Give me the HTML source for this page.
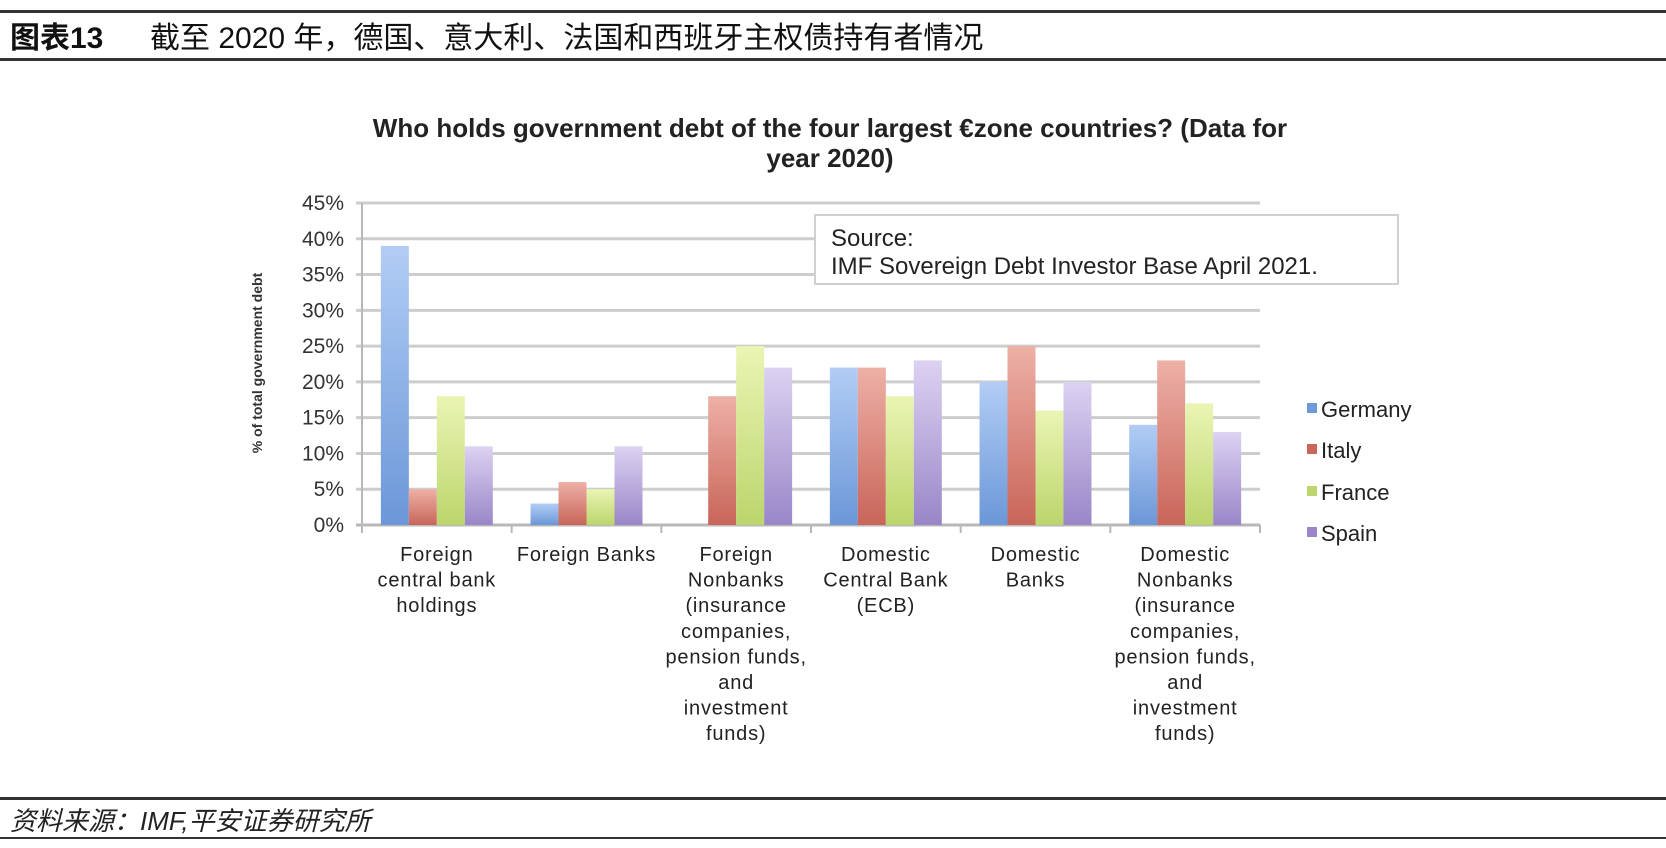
<!DOCTYPE html>
<html><head><meta charset="utf-8"><style>
body{margin:0;background:#fff;width:1666px;height:848px;overflow:hidden}
svg{display:block}
</style></head><body>
<svg id="chart" width="1666" height="848" xmlns="http://www.w3.org/2000/svg">
<defs>
<linearGradient id="gG" x1="0" y1="0" x2="0" y2="1"><stop offset="0" stop-color="#b2cdf5"/><stop offset="1" stop-color="#6b97d8"/></linearGradient>
<linearGradient id="gI" x1="0" y1="0" x2="0" y2="1"><stop offset="0" stop-color="#eeb0a6"/><stop offset="1" stop-color="#c9655a"/></linearGradient>
<linearGradient id="gF" x1="0" y1="0" x2="0" y2="1"><stop offset="0" stop-color="#eaf5b4"/><stop offset="1" stop-color="#bcd56c"/></linearGradient>
<linearGradient id="gS" x1="0" y1="0" x2="0" y2="1"><stop offset="0" stop-color="#dcd2f2"/><stop offset="1" stop-color="#9a86c8"/></linearGradient>
</defs>
<rect x="0" y="10" width="1666" height="3" fill="#333"/>
<text x="10" y="48" font-family="Liberation Sans, 'Noto Sans CJK SC', sans-serif" font-size="30" font-weight="bold" fill="#111">图表13</text>
<text x="150" y="48" font-family="Liberation Sans, 'Noto Sans CJK SC', sans-serif" font-size="30" fill="#111">截至 2020 年，德国、意大利、法国和西班牙主权债持有者情况</text>
<rect x="0" y="58" width="1666" height="3" fill="#333"/>
<text x="830" y="137" text-anchor="middle" font-family="Liberation Sans, sans-serif" font-size="26" font-weight="bold" fill="#222">Who holds government debt of the four largest €zone countries? (Data for</text>
<text x="830" y="167" text-anchor="middle" font-family="Liberation Sans, sans-serif" font-size="26" font-weight="bold" fill="#222">year 2020)</text>
<g id="grid"></g>
<g id="bars"></g>
<g id="labels"></g>
<text transform="translate(262,363) rotate(-90)" text-anchor="middle" font-family="Liberation Sans, sans-serif" font-size="14" font-weight="bold" fill="#333">% of total government debt</text>
<rect x="815" y="215" width="583" height="69" fill="#fff" stroke="#d0d0d0" stroke-width="2"/>
<text x="831" y="246" font-family="Liberation Sans, sans-serif" font-size="24" fill="#222">Source:</text>
<text x="831" y="274" font-family="Liberation Sans, sans-serif" font-size="24" fill="#222">IMF Sovereign Debt Investor Base April 2021.</text>
<g id="legend"></g>
<rect x="0" y="797" width="1666" height="3" fill="#333"/>
<text x="10" y="830" font-family="Liberation Sans, 'Noto Sans CJK SC', sans-serif" font-size="26" font-style="italic" fill="#222">资料来源：IMF,平安证券研究所</text>
<rect x="0" y="837" width="1666" height="2" fill="#333"/>
</svg>
<script>
const categories = [["Foreign","central bank","holdings"],["Foreign Banks"],["Foreign","Nonbanks","(insurance","companies,","pension funds,","and","investment","funds)"],["Domestic","Central Bank","(ECB)"],["Domestic","Banks"],["Domestic","Nonbanks","(insurance","companies,","pension funds,","and","investment","funds)"]];
const seriesNames = ["Germany","Italy","France","Spain"];
const germany = [39,3,0,22,20,14];
const italy = [5,6,18,22,25,23];
const france = [18,5,25,18,16,17];
const spain = [11,11,22,23,20,13];
const yTicks = [0,5,10,15,20,25,30,35,40,45];
const tickLabels = ["0%","5%","10%","15%","20%","25%","30%","35%","40%","45%"];

const NS="http://www.w3.org/2000/svg";
const X0=362,X1=1260,Y0=525,Y1=203,YMAX=45;
const gw=(X1-X0)/categories.length;
function yScale(v){return Y0-(v/YMAX)*(Y0-Y1);}
function xGroup(i){return X0+i*gw;}
function mk(tag,attrs,parent){const e=document.createElementNS(NS,tag);for(const k in attrs)e.setAttribute(k,attrs[k]);parent.appendChild(e);return e;}
const grid=document.getElementById('grid'),bars=document.getElementById('bars'),labels=document.getElementById('labels'),legend=document.getElementById('legend');
yTicks.forEach((t,i)=>{
  const y=yScale(t);
  const l=mk('line',{x1:X0-6,x2:X1,y1:y,y2:y,stroke:i===0?'#b8b8b8':'#cdcdcd','stroke-width':3},grid);
  
  
  const tx=mk('text',{x:344,y:y+7,'text-anchor':'end','font-family':'Liberation Sans, sans-serif','font-size':21,fill:'#333'},labels);
  tx.textContent=tickLabels[i];
  
  
});
const ax=mk('line',{x1:X0,x2:X0,y1:Y1,y2:Y0+6,stroke:'#b8b8b8','stroke-width':2},grid);


for(let i=0;i<=categories.length;i++){
  const tk=mk('line',{x1:xGroup(i),x2:xGroup(i),y1:Y0,y2:Y0+8,stroke:'#b8b8b8','stroke-width':2},grid);
  
  
}
const series=[germany,italy,france,spain],fills=['url(#gG)','url(#gI)','url(#gF)','url(#gS)'];
const bw=gw*0.187,pad=(gw-4*bw)/2;
series.forEach((s,si)=>{
  s.forEach((v,ci)=>{
    if(v<=0)return;
    const x=xGroup(ci)+pad+si*bw,y=yScale(v);
    const r=mk('rect',{x:x,y:y,width:bw,height:Y0-y,fill:fills[si]},bars);
    
    
  });
});
categories.forEach((lines,ci)=>{
  const cx=xGroup(ci)+gw/2;
  lines.forEach((ln,li)=>{
    const t=mk('text',{x:cx,y:561+li*25.6,'text-anchor':'middle','font-family':'Liberation Sans, sans-serif','font-size':20,'letter-spacing':0.8,fill:'#222'},labels);
    t.textContent=ln;
    
    
  });
});
const legY=[409,450,492,533],legC=['#6f9ad8','#c9655a','#bcd66c','#9a86c8'];
seriesNames.forEach((n,i)=>{
  const r=mk('rect',{x:1307,y:legY[i]-6,width:10,height:10,fill:legC[i]},legend);
  
  
  const t=mk('text',{x:1321,y:legY[i]+8,'font-family':'Liberation Sans, sans-serif','font-size':22,fill:'#222'},legend);
  t.textContent=n;
  
  
});
</script>
</body></html>
